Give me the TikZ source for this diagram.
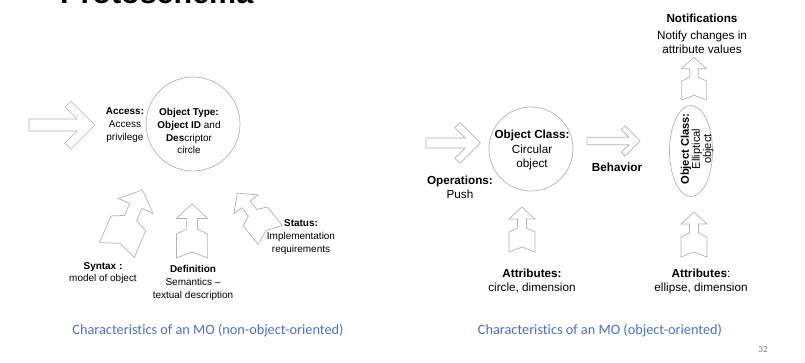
\documentclass[tikz,border=0pt]{standalone}
\usepackage{fontspec}
\setmainfont{Liberation Sans}
\newfontfamily\capfont[Ligatures=NoCommon]{Carlito}
\usetikzlibrary{shapes.geometric}

\definecolor{capblue}{RGB}{72,114,196}

\begin{document}
\begin{tikzpicture}[
    x=0.03cm, y=0.03cm,
    outline/.style={draw=gray!60, line width=0.6pt},
    bubble/.style={draw=gray!60, line width=0.6pt, circle, inner sep=0pt},
    lbl/.style={align=center, inner sep=0pt, font=\fontsize{8.5}{11}\selectfont},
    biglbl/.style={align=center, inner sep=0pt, font=\fontsize{10}{12}\selectfont},
    caption/.style={font=\capfont\fontsize{12.2}{14}\selectfont, text=capblue},
    pics/fatarrow/.style={code={
        \draw[outline] (0,6) -- (#1+6,6) -- (#1-6,18) -- (#1,24) -- (#1+24,0)
            -- (#1,-24) -- (#1-6,-18) -- (#1+6,-6) -- (0,-6) -- cycle;
    }},
    pics/notcharrow/.style={code={
        \draw[outline] (0,5) -- (-13,0) -- (-13,20) -- (-4.5,24) -- (-4.5,33)
            -- (-13,33) -- (0,45) -- (13,33) -- (4.5,33) -- (4.5,24)
            -- (13,20) -- (13,0) -- cycle;
    }}
]
\useasboundingbox (0,0) rectangle (805,-363);

% Title, cut at the top of the page
\node[anchor=base west, inner sep=0pt, font=\bfseries\fontsize{26}{30}\selectfont] (title) at (60,-4) {Protoschema};

% Non-object-oriented MO
\node[bubble, minimum size=2.82cm] (objtype) at (193,-124) {};
\node[lbl] (typetext) at (189,-131) {\textbf{Object Type:}\\\textbf{Object ID} and\\\textbf{Des}criptor\\circle};
\node[lbl] (access) at (125,-125) {\textbf{Access:}\\Access\\privilege};
\node[lbl] (syntax) at (103,-273) {\textbf{Syntax :}\\model of object};
\node[lbl] (definition) at (193,-283) {\textbf{Definition}\\Semantics --\\textual description};
\node[lbl] (status) at (301,-237) {\textbf{Status:}\\Implementation\\requirements};

% Block arrows pointing at the circle
\pic at (29,-125) {fatarrow=42};
\pic[scale=1.45, rotate=-23] at (117,-250) {notcharrow};
\pic[scale=1.2] at (192,-258) {notcharrow};
\pic[scale=1.18, rotate=38] at (270,-235) {notcharrow};

% Object-oriented MO
\node[bubble, minimum size=2.52cm] (objclass) at (531,-149) {};
\node[biglbl] (classtext) at (532,-150) {\textbf{Object Class:}\\Circular\\object};
\node[biglbl] (operations) at (460,-187) {\textbf{Operations:}\\Push};
\node[biglbl, font=\bfseries\fontsize{10}{12}\selectfont] (behavior) at (617,-167) {Behavior};
\node[draw=gray!60, line width=0.6pt, ellipse, minimum width=1.29cm, minimum height=2.73cm, inner sep=0pt] (objellipse) at (691,-151) {};
\node[biglbl, rotate=90, font=\fontsize{9.5}{9.5}\selectfont] (ellipsetext) at (697,-149) {\textbf{Object Class:}\\Elliptical\\object};
\node[biglbl] (notify) at (702,-34) {\textbf{Notifications}\\[2pt]Notify changes in\\attribute values};
\node[biglbl] (attrcircle) at (532,-281) {\textbf{Attributes:}\\circle, dimension};
\node[biglbl] (attrellipse) at (701,-281) {\textbf{Attributes}:\\ellipse, dimension};

\pic[scale=0.85] at (426,-143) {fatarrow=40};
\pic[scale=0.625] at (587,-141) {fatarrow=61};
\pic at (522,-252) {notcharrow};
\pic at (694,-257) {notcharrow};
\pic[scale=0.95] at (694,-100) {notcharrow};

% Captions
\node[caption] (capleft) at (208,-330) {Characteristics of an MO (non-object-oriented)};
\node[caption] (capright) at (600,-330) {Characteristics of an MO (object-oriented)};
\node[font=\capfont\fontsize{8}{10}\selectfont, text=gray] (pagenum) at (763,-349) {32};

\end{tikzpicture}
\end{document}
